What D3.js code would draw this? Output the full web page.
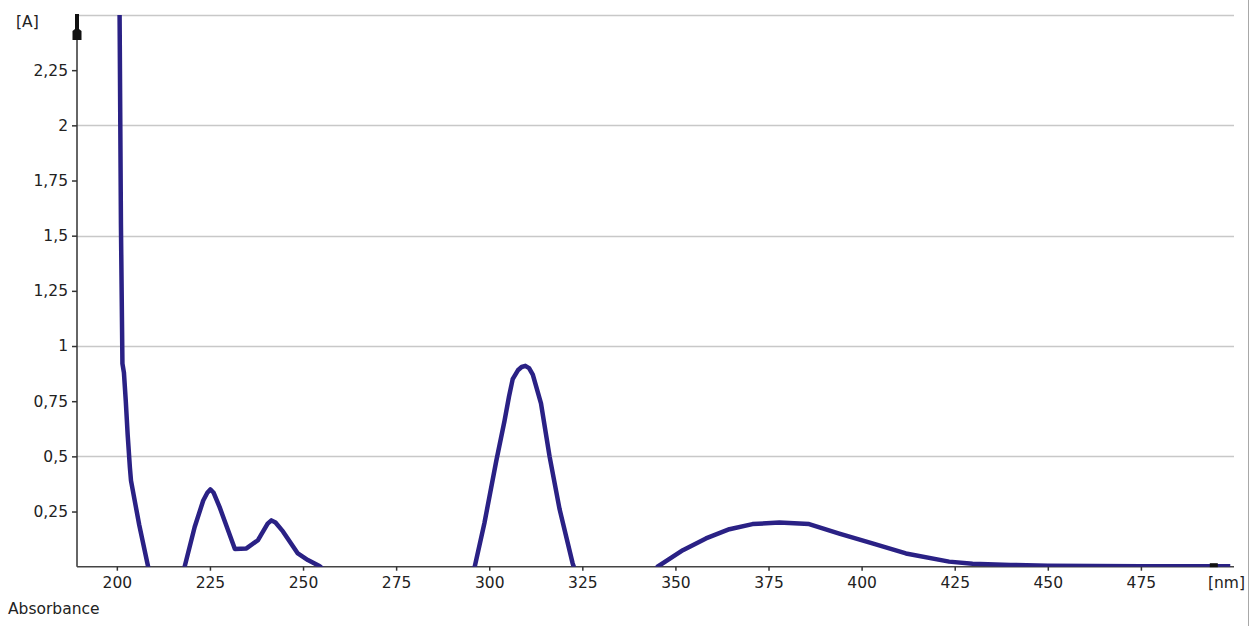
<!DOCTYPE html>
<html>
<head>
<meta charset="utf-8">
<script src="https://cdn.jsdelivr.net/npm/d3@7"></script>
<style>
  html, body { margin: 0; padding: 0; background: #fff; }
  svg { display: block; }
  text { font-family: "DejaVu Sans", sans-serif; font-size: 15.5px; fill: #222; }
</style>
</head>
<body>
<svg id="chart" width="1250" height="626"></svg>
<script>
// Wavelength (nm) and absorbance readings of the spectrum
const wavelengths = [200.7, 201.1, 201.5, 201.9, 202.4, 202.9, 203.5, 203.8, 206.0, 208.4, 209.5,
  212, 215, 217.5, 218.2, 220.9, 223.2, 224.3, 225.1, 226.0, 227.6, 231.7, 234.8, 237.9, 240.5, 241.5,
  242.6, 244.6, 248.6, 251.3, 254.4, 256, 270, 290, 295, 296.1, 298.7, 301.9, 304.1, 305.3, 306.3,
  307.7, 308.7, 309.7, 310.7, 311.7, 313.9, 316.2, 318.9, 322.4, 324, 335, 344, 345.2, 352, 358.2,
  364.5, 370.7, 377.9, 385.9, 394, 402.9, 411.9, 423.5, 429.8, 440, 450, 475, 499];
const absorbance = [2.6, 1.55, 0.92, 0.88, 0.75, 0.6, 0.45, 0.39, 0.19, 0.0, -0.06,
  -0.15, -0.12, -0.03, 0, 0.18, 0.30, 0.335, 0.35, 0.335, 0.27, 0.08, 0.083, 0.12, 0.195, 0.21,
  0.2, 0.16, 0.06, 0.03, 0.003, -0.02, -0.15, -0.1, -0.02, 0, 0.197, 0.48, 0.66, 0.77, 0.85,
  0.89, 0.905, 0.91, 0.9, 0.87, 0.74, 0.50, 0.26, 0.015, -0.06, -0.15, -0.03, 0, 0.075, 0.128,
  0.17, 0.193, 0.20, 0.193, 0.15, 0.106, 0.06, 0.023, 0.013, 0.008, 0.004, 0.002, 0.002];
const xTicks = [200, 225, 250, 275, 300, 325, 350, 375, 400, 425, 450, 475];
const yTicks = [0.25, 0.5, 0.75, 1, 1.25, 1.5, 1.75, 2, 2.25];
const yGrid = [0.5, 1, 1.5, 2, 2.5];
const xDomain = [189.3, 500];
const yDomain = [0, 2.5];

const svg = d3.select("#chart");
const L = 77, R = 1234, T = 15, B = 566.7;
const x = d3.scaleLinear().domain(xDomain).range([L, R]);
const y = d3.scaleLinear().domain(yDomain).range([B, T]);

// right border
svg.append("line").attr("x1", 1248.5).attr("x2", 1248.5).attr("y1", 0).attr("y2", 626)
  .attr("stroke", "#a8a8a8").attr("stroke-width", 1);

// gridlines
svg.append("g").selectAll("line").data(yGrid).join("line")
  .attr("x1", L).attr("x2", R)
  .attr("y1", d => Math.round(y(d)) + 0.5).attr("y2", d => Math.round(y(d)) + 0.5)
  .attr("stroke", "#c8c8c8").attr("stroke-width", 1.5);

// y axis
const yAxis = d3.axisLeft(y).tickValues(yTicks).tickSize(5).tickPadding(4)
  .tickFormat(d => String(d).replace(".", ","));
const gy = svg.append("g").attr("transform", `translate(${L},0)`).call(yAxis);
gy.select(".domain").attr("stroke", "#333").attr("stroke-width", 1.5)
  .attr("d", `M0,${T}V${B}`);
gy.selectAll(".tick line").attr("stroke", "#333").attr("stroke-width", 1.5);
gy.selectAll(".tick text").attr("font-family", "DejaVu Sans").attr("font-size", 15.5).attr("fill", "#222");

// x axis
const xAxis = d3.axisBottom(x).tickValues(xTicks).tickSize(4).tickPadding(6).tickFormat(d => d);
const gx = svg.append("g").attr("transform", `translate(0,${B})`).call(xAxis);
gx.select(".domain").attr("stroke", "#444").attr("stroke-width", 1.5)
  .attr("d", `M${L},0H${R}`);
gx.selectAll(".tick line").attr("stroke", "#333").attr("stroke-width", 1.5);
gx.selectAll(".tick text").attr("font-family", "DejaVu Sans").attr("font-size", 15.5).attr("fill", "#222");

// clip
svg.append("clipPath").attr("id", "plot").append("rect")
  .attr("x", L).attr("y", T).attr("width", R - L).attr("height", B - T);

const data = wavelengths.map((w, i) => [w, absorbance[i]]);
svg.append("path").datum(data)
  .attr("clip-path", "url(#plot)")
  .attr("fill", "none").attr("stroke", "#2a2185").attr("stroke-width", 4.5)
  .attr("stroke-linejoin", "round")
  .attr("d", d3.line().x(d => x(d[0])).y(d => y(d[1])));

// axis end markers
svg.append("path")
  .attr("d", `M${L - 2},${T - 1}H${L + 2}V${T + 14}L${L + 4.5},${T + 16}V${T + 25}H${L - 4.5}V${T + 16}L${L - 2},${T + 14}Z`)
  .attr("fill", "#111");
svg.append("rect").attr("x", x(493.5)).attr("y", B - 3.5).attr("width", 8).attr("height", 4).attr("fill", "#111");

// labels
svg.append("text").attr("x", 16).attr("y", 27).text("[A]");
svg.append("text").attr("x", 1208).attr("y", 588).text("[nm]");
svg.append("text").attr("x", 8).attr("y", 614).text("Absorbance");
</script>
</body>
</html>
